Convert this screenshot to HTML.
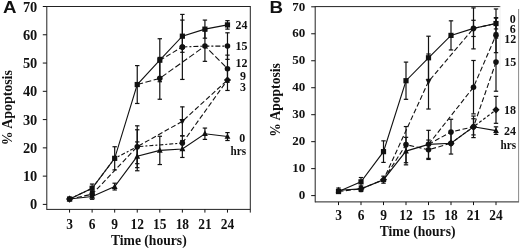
<!DOCTYPE html>
<html><head><meta charset="utf-8"><style>
html,body{margin:0;padding:0;background:#fff;}
svg{display:block;filter:grayscale(1) blur(0.35px)}
</style></head><body>
<svg width="520" height="248" viewBox="0 0 520 248">
<rect width="520" height="248" fill="#fff"/>
<line x1="46.80" y1="6.00" x2="46.80" y2="209.90" stroke="#222" stroke-width="1"/>
<line x1="46.80" y1="6.50" x2="250.30" y2="6.50" stroke="#222" stroke-width="1"/>
<line x1="250.30" y1="6.00" x2="250.30" y2="212.60" stroke="#222" stroke-width="1"/>
<line x1="46.80" y1="209.40" x2="250.30" y2="209.40" stroke="#222" stroke-width="1"/>
<line x1="42.80" y1="204.40" x2="46.80" y2="204.40" stroke="#111" stroke-width="1"/>
<text transform="translate(37.3 209.4)" font-family="Liberation Serif, serif" font-weight="bold" font-size="14.4" text-anchor="end" fill="#111">0</text>
<line x1="42.80" y1="176.13" x2="46.80" y2="176.13" stroke="#111" stroke-width="1"/>
<text transform="translate(37.3 181.13)" font-family="Liberation Serif, serif" font-weight="bold" font-size="14.4" text-anchor="end" fill="#111">10</text>
<line x1="42.80" y1="147.86" x2="46.80" y2="147.86" stroke="#111" stroke-width="1"/>
<text transform="translate(37.3 152.86)" font-family="Liberation Serif, serif" font-weight="bold" font-size="14.4" text-anchor="end" fill="#111">20</text>
<line x1="42.80" y1="119.59" x2="46.80" y2="119.59" stroke="#111" stroke-width="1"/>
<text transform="translate(37.3 124.59)" font-family="Liberation Serif, serif" font-weight="bold" font-size="14.4" text-anchor="end" fill="#111">30</text>
<line x1="42.80" y1="91.32" x2="46.80" y2="91.32" stroke="#111" stroke-width="1"/>
<text transform="translate(37.3 96.32000000000001)" font-family="Liberation Serif, serif" font-weight="bold" font-size="14.4" text-anchor="end" fill="#111">40</text>
<line x1="42.80" y1="63.05" x2="46.80" y2="63.05" stroke="#111" stroke-width="1"/>
<text transform="translate(37.3 68.05000000000001)" font-family="Liberation Serif, serif" font-weight="bold" font-size="14.4" text-anchor="end" fill="#111">50</text>
<line x1="42.80" y1="34.78" x2="46.80" y2="34.78" stroke="#111" stroke-width="1"/>
<text transform="translate(37.3 39.78)" font-family="Liberation Serif, serif" font-weight="bold" font-size="14.4" text-anchor="end" fill="#111">60</text>
<line x1="42.80" y1="6.51" x2="46.80" y2="6.51" stroke="#111" stroke-width="1"/>
<text transform="translate(37.3 11.51000000000002)" font-family="Liberation Serif, serif" font-weight="bold" font-size="14.4" text-anchor="end" fill="#111">70</text>
<line x1="69.56" y1="209.40" x2="69.56" y2="212.60" stroke="#111" stroke-width="1"/>
<text transform="translate(69.56 228.9) scale(0.96 1)" font-family="Liberation Serif, serif" font-weight="bold" font-size="14" text-anchor="middle" fill="#111">3</text>
<line x1="92.12" y1="209.40" x2="92.12" y2="212.60" stroke="#111" stroke-width="1"/>
<text transform="translate(92.12 228.9) scale(0.96 1)" font-family="Liberation Serif, serif" font-weight="bold" font-size="14" text-anchor="middle" fill="#111">6</text>
<line x1="114.68" y1="209.40" x2="114.68" y2="212.60" stroke="#111" stroke-width="1"/>
<text transform="translate(114.67999999999999 228.9) scale(0.96 1)" font-family="Liberation Serif, serif" font-weight="bold" font-size="14" text-anchor="middle" fill="#111">9</text>
<line x1="137.24" y1="209.40" x2="137.24" y2="212.60" stroke="#111" stroke-width="1"/>
<text transform="translate(137.24 228.9) scale(0.96 1)" font-family="Liberation Serif, serif" font-weight="bold" font-size="14" text-anchor="middle" fill="#111">12</text>
<line x1="159.80" y1="209.40" x2="159.80" y2="212.60" stroke="#111" stroke-width="1"/>
<text transform="translate(159.8 228.9) scale(0.96 1)" font-family="Liberation Serif, serif" font-weight="bold" font-size="14" text-anchor="middle" fill="#111">15</text>
<line x1="182.36" y1="209.40" x2="182.36" y2="212.60" stroke="#111" stroke-width="1"/>
<text transform="translate(182.35999999999999 228.9) scale(0.96 1)" font-family="Liberation Serif, serif" font-weight="bold" font-size="14" text-anchor="middle" fill="#111">18</text>
<line x1="204.92" y1="209.40" x2="204.92" y2="212.60" stroke="#111" stroke-width="1"/>
<text transform="translate(204.92 228.9) scale(0.96 1)" font-family="Liberation Serif, serif" font-weight="bold" font-size="14" text-anchor="middle" fill="#111">21</text>
<line x1="227.48" y1="209.40" x2="227.48" y2="212.60" stroke="#111" stroke-width="1"/>
<text transform="translate(227.48 228.9) scale(0.96 1)" font-family="Liberation Serif, serif" font-weight="bold" font-size="14" text-anchor="middle" fill="#111">24</text>
<text transform="translate(3.1 13.1) scale(1.1 1)" font-family="Liberation Sans, serif" font-weight="bold" font-size="17" text-anchor="start" fill="#111">A</text>
<text transform="translate(11.5 107.7) rotate(-90) scale(0.97 1)" font-family="Liberation Serif, serif" font-weight="bold" font-size="14.3" text-anchor="middle" fill="#111">% Apoptosis</text>
<text transform="translate(148.8 244.8) scale(0.96 1)" font-family="Liberation Serif, serif" font-weight="bold" font-size="14.2" text-anchor="middle" fill="#111">Time (hours)</text>
<line x1="92.12" y1="184.05" x2="92.12" y2="192.53" stroke="#111" stroke-width="1.2"/>
<line x1="89.92" y1="184.05" x2="94.32" y2="184.05" stroke="#111" stroke-width="1.2"/>
<line x1="89.92" y1="192.53" x2="94.32" y2="192.53" stroke="#111" stroke-width="1.2"/>
<line x1="114.68" y1="146.73" x2="114.68" y2="169.91" stroke="#111" stroke-width="1.2"/>
<line x1="112.48" y1="146.73" x2="116.88" y2="146.73" stroke="#111" stroke-width="1.2"/>
<line x1="112.48" y1="169.91" x2="116.88" y2="169.91" stroke="#111" stroke-width="1.2"/>
<line x1="137.24" y1="65.59" x2="137.24" y2="103.48" stroke="#111" stroke-width="1.2"/>
<line x1="135.04" y1="65.59" x2="139.44" y2="65.59" stroke="#111" stroke-width="1.2"/>
<line x1="135.04" y1="103.48" x2="139.44" y2="103.48" stroke="#111" stroke-width="1.2"/>
<line x1="159.80" y1="38.74" x2="159.80" y2="81.71" stroke="#111" stroke-width="1.2"/>
<line x1="157.60" y1="38.74" x2="162.00" y2="38.74" stroke="#111" stroke-width="1.2"/>
<line x1="157.60" y1="81.71" x2="162.00" y2="81.71" stroke="#111" stroke-width="1.2"/>
<line x1="182.36" y1="20.08" x2="182.36" y2="52.31" stroke="#111" stroke-width="1.2"/>
<line x1="180.16" y1="20.08" x2="184.56" y2="20.08" stroke="#111" stroke-width="1.2"/>
<line x1="180.16" y1="52.31" x2="184.56" y2="52.31" stroke="#111" stroke-width="1.2"/>
<line x1="204.92" y1="20.08" x2="204.92" y2="38.17" stroke="#111" stroke-width="1.2"/>
<line x1="202.72" y1="20.08" x2="207.12" y2="20.08" stroke="#111" stroke-width="1.2"/>
<line x1="202.72" y1="38.17" x2="207.12" y2="38.17" stroke="#111" stroke-width="1.2"/>
<line x1="227.48" y1="20.65" x2="227.48" y2="29.13" stroke="#111" stroke-width="1.2"/>
<line x1="225.28" y1="20.65" x2="229.68" y2="20.65" stroke="#111" stroke-width="1.2"/>
<line x1="225.28" y1="29.13" x2="229.68" y2="29.13" stroke="#111" stroke-width="1.2"/>
<line x1="182.36" y1="14.43" x2="182.36" y2="79.45" stroke="#111" stroke-width="1.2"/>
<line x1="180.16" y1="14.43" x2="184.56" y2="14.43" stroke="#111" stroke-width="1.2"/>
<line x1="180.16" y1="79.45" x2="184.56" y2="79.45" stroke="#111" stroke-width="1.2"/>
<line x1="204.92" y1="30.82" x2="204.92" y2="61.35" stroke="#111" stroke-width="1.2"/>
<line x1="202.72" y1="30.82" x2="207.12" y2="30.82" stroke="#111" stroke-width="1.2"/>
<line x1="202.72" y1="61.35" x2="207.12" y2="61.35" stroke="#111" stroke-width="1.2"/>
<line x1="227.48" y1="32.80" x2="227.48" y2="59.37" stroke="#111" stroke-width="1.2"/>
<line x1="225.28" y1="32.80" x2="229.68" y2="32.80" stroke="#111" stroke-width="1.2"/>
<line x1="225.28" y1="59.37" x2="229.68" y2="59.37" stroke="#111" stroke-width="1.2"/>
<line x1="159.80" y1="57.40" x2="159.80" y2="99.24" stroke="#111" stroke-width="1.2"/>
<line x1="157.60" y1="57.40" x2="162.00" y2="57.40" stroke="#111" stroke-width="1.2"/>
<line x1="157.60" y1="99.24" x2="162.00" y2="99.24" stroke="#111" stroke-width="1.2"/>
<line x1="227.48" y1="55.13" x2="227.48" y2="82.27" stroke="#111" stroke-width="1.2"/>
<line x1="225.28" y1="55.13" x2="229.68" y2="55.13" stroke="#111" stroke-width="1.2"/>
<line x1="225.28" y1="82.27" x2="229.68" y2="82.27" stroke="#111" stroke-width="1.2"/>
<line x1="92.12" y1="191.40" x2="92.12" y2="197.05" stroke="#111" stroke-width="1.2"/>
<line x1="89.92" y1="191.40" x2="94.32" y2="191.40" stroke="#111" stroke-width="1.2"/>
<line x1="89.92" y1="197.05" x2="94.32" y2="197.05" stroke="#111" stroke-width="1.2"/>
<line x1="137.24" y1="125.81" x2="137.24" y2="167.65" stroke="#111" stroke-width="1.2"/>
<line x1="135.04" y1="125.81" x2="139.44" y2="125.81" stroke="#111" stroke-width="1.2"/>
<line x1="135.04" y1="167.65" x2="139.44" y2="167.65" stroke="#111" stroke-width="1.2"/>
<line x1="182.36" y1="106.87" x2="182.36" y2="135.70" stroke="#111" stroke-width="1.2"/>
<line x1="180.16" y1="106.87" x2="184.56" y2="106.87" stroke="#111" stroke-width="1.2"/>
<line x1="180.16" y1="135.70" x2="184.56" y2="135.70" stroke="#111" stroke-width="1.2"/>
<line x1="227.48" y1="69.55" x2="227.48" y2="90.47" stroke="#111" stroke-width="1.2"/>
<line x1="225.28" y1="69.55" x2="229.68" y2="69.55" stroke="#111" stroke-width="1.2"/>
<line x1="225.28" y1="90.47" x2="229.68" y2="90.47" stroke="#111" stroke-width="1.2"/>
<line x1="137.24" y1="129.77" x2="137.24" y2="163.69" stroke="#111" stroke-width="1.2"/>
<line x1="135.04" y1="129.77" x2="139.44" y2="129.77" stroke="#111" stroke-width="1.2"/>
<line x1="135.04" y1="163.69" x2="139.44" y2="163.69" stroke="#111" stroke-width="1.2"/>
<line x1="182.36" y1="135.99" x2="182.36" y2="150.12" stroke="#111" stroke-width="1.2"/>
<line x1="180.16" y1="135.99" x2="184.56" y2="135.99" stroke="#111" stroke-width="1.2"/>
<line x1="180.16" y1="150.12" x2="184.56" y2="150.12" stroke="#111" stroke-width="1.2"/>
<line x1="92.12" y1="193.66" x2="92.12" y2="199.31" stroke="#111" stroke-width="1.2"/>
<line x1="89.92" y1="193.66" x2="94.32" y2="193.66" stroke="#111" stroke-width="1.2"/>
<line x1="89.92" y1="199.31" x2="94.32" y2="199.31" stroke="#111" stroke-width="1.2"/>
<line x1="114.68" y1="183.20" x2="114.68" y2="189.98" stroke="#111" stroke-width="1.2"/>
<line x1="112.48" y1="183.20" x2="116.88" y2="183.20" stroke="#111" stroke-width="1.2"/>
<line x1="112.48" y1="189.98" x2="116.88" y2="189.98" stroke="#111" stroke-width="1.2"/>
<line x1="137.24" y1="141.92" x2="137.24" y2="170.76" stroke="#111" stroke-width="1.2"/>
<line x1="135.04" y1="141.92" x2="139.44" y2="141.92" stroke="#111" stroke-width="1.2"/>
<line x1="135.04" y1="170.76" x2="139.44" y2="170.76" stroke="#111" stroke-width="1.2"/>
<line x1="159.80" y1="136.27" x2="159.80" y2="164.54" stroke="#111" stroke-width="1.2"/>
<line x1="157.60" y1="136.27" x2="162.00" y2="136.27" stroke="#111" stroke-width="1.2"/>
<line x1="157.60" y1="164.54" x2="162.00" y2="164.54" stroke="#111" stroke-width="1.2"/>
<line x1="182.36" y1="140.51" x2="182.36" y2="157.47" stroke="#111" stroke-width="1.2"/>
<line x1="180.16" y1="140.51" x2="184.56" y2="140.51" stroke="#111" stroke-width="1.2"/>
<line x1="180.16" y1="157.47" x2="184.56" y2="157.47" stroke="#111" stroke-width="1.2"/>
<line x1="204.92" y1="128.07" x2="204.92" y2="139.38" stroke="#111" stroke-width="1.2"/>
<line x1="202.72" y1="128.07" x2="207.12" y2="128.07" stroke="#111" stroke-width="1.2"/>
<line x1="202.72" y1="139.38" x2="207.12" y2="139.38" stroke="#111" stroke-width="1.2"/>
<line x1="227.48" y1="132.59" x2="227.48" y2="140.51" stroke="#111" stroke-width="1.2"/>
<line x1="225.28" y1="132.59" x2="229.68" y2="132.59" stroke="#111" stroke-width="1.2"/>
<line x1="225.28" y1="140.51" x2="229.68" y2="140.51" stroke="#111" stroke-width="1.2"/>
<polyline points="69.56,199.03 92.12,188.29 114.68,158.32 137.24,84.54 159.80,60.22 182.36,36.19 204.92,29.13 227.48,24.89" fill="none" stroke="#111" stroke-width="1.1"/>
<polyline points="159.80,60.22 182.36,46.94" fill="none" stroke="#111" stroke-width="1.1" stroke-dasharray="5 2.5"/>
<polyline points="182.36,46.94 204.92,46.09 227.48,46.09" fill="none" stroke="#111" stroke-width="1.1" stroke-dasharray="5 2 2 2"/>
<polyline points="137.24,84.54 159.80,78.32 204.92,46.09 227.48,68.70" fill="none" stroke="#111" stroke-width="1.1" stroke-dasharray="6 2.5"/>
<polyline points="69.56,199.03 92.12,194.22 137.24,146.73 182.36,121.29 227.48,80.01" fill="none" stroke="#111" stroke-width="1.1" stroke-dasharray="5 2.5"/>
<polyline points="69.56,199.03 92.12,188.29 114.68,158.32 137.24,146.73 182.36,143.05" fill="none" stroke="#111" stroke-width="1.1" stroke-dasharray="4 2 2 2"/>
<polyline points="182.36,143.05 227.48,80.01" fill="none" stroke="#111" stroke-width="1.1" stroke-dasharray="5 2.5"/>
<polyline points="69.56,199.03 92.12,196.48 114.68,186.59 137.24,156.34 159.80,150.40 182.36,148.99 204.92,133.73 227.48,136.55" fill="none" stroke="#111" stroke-width="1.1"/>
<rect x="66.96" y="196.43" width="5.2" height="5.2" fill="#111"/>
<rect x="89.52" y="185.69" width="5.2" height="5.2" fill="#111"/>
<rect x="112.08" y="155.72" width="5.2" height="5.2" fill="#111"/>
<rect x="134.64" y="81.94" width="5.2" height="5.2" fill="#111"/>
<rect x="157.20" y="57.62" width="5.2" height="5.2" fill="#111"/>
<rect x="179.76" y="33.59" width="5.2" height="5.2" fill="#111"/>
<rect x="202.32" y="26.53" width="5.2" height="5.2" fill="#111"/>
<rect x="224.88" y="22.29" width="5.2" height="5.2" fill="#111"/>
<circle cx="182.36" cy="46.94" r="2.8000000000000003" fill="#111"/>
<circle cx="182.36" cy="46.94" r="2.8000000000000003" fill="#111"/>
<circle cx="204.92" cy="46.09" r="2.8000000000000003" fill="#111"/>
<circle cx="227.48" cy="46.09" r="2.8000000000000003" fill="#111"/>
<circle cx="159.80" cy="78.32" r="2.8000000000000003" fill="#111"/>
<circle cx="227.48" cy="68.70" r="2.8000000000000003" fill="#111"/>
<circle cx="92.12" cy="194.22" r="2.8000000000000003" fill="#111"/>
<polygon points="179.46,118.99 185.26,118.99 182.36,124.69" fill="#111"/>
<polygon points="65.96,199.03 69.56,195.43 73.16,199.03 69.56,202.63" fill="#111"/>
<circle cx="137.24" cy="146.73" r="2.8000000000000003" fill="#111"/>
<circle cx="182.36" cy="143.05" r="2.8000000000000003" fill="#111"/>
<polygon points="223.88,80.01 227.48,76.41 231.08,80.01 227.48,83.61" fill="#111"/>
<polygon points="66.66,201.33 72.46,201.33 69.56,195.63" fill="#111"/>
<polygon points="89.22,198.78 95.02,198.78 92.12,193.08" fill="#111"/>
<polygon points="111.78,188.89 117.58,188.89 114.68,183.19" fill="#111"/>
<polygon points="134.34,158.64 140.14,158.64 137.24,152.94" fill="#111"/>
<polygon points="156.90,152.70 162.70,152.70 159.80,147.00" fill="#111"/>
<polygon points="179.46,151.29 185.26,151.29 182.36,145.59" fill="#111"/>
<polygon points="202.02,136.03 207.82,136.03 204.92,130.33" fill="#111"/>
<polygon points="224.58,138.85 230.38,138.85 227.48,133.15" fill="#111"/>
<text transform="translate(235.5 28.5) scale(0.9 1)" font-family="Liberation Serif, serif" font-weight="bold" font-size="13.3" text-anchor="start" fill="#111">24</text>
<text transform="translate(235.5 49.5) scale(0.9 1)" font-family="Liberation Serif, serif" font-weight="bold" font-size="13.3" text-anchor="start" fill="#111">15</text>
<text transform="translate(235.5 66.5) scale(0.9 1)" font-family="Liberation Serif, serif" font-weight="bold" font-size="13.3" text-anchor="start" fill="#111">12</text>
<text transform="translate(240 79.8) scale(0.9 1)" font-family="Liberation Serif, serif" font-weight="bold" font-size="13.3" text-anchor="start" fill="#111">9</text>
<text transform="translate(240 91.3) scale(0.9 1)" font-family="Liberation Serif, serif" font-weight="bold" font-size="13.3" text-anchor="start" fill="#111">3</text>
<text transform="translate(239.3 141.8) scale(0.9 1)" font-family="Liberation Serif, serif" font-weight="bold" font-size="13.3" text-anchor="start" fill="#111">0</text>
<text transform="translate(230.5 155.2) scale(0.86 1)" font-family="Liberation Serif, serif" font-weight="bold" font-size="13" text-anchor="start" fill="#111">hrs</text>
<line x1="315.20" y1="6.10" x2="315.20" y2="202.40" stroke="#222" stroke-width="1"/>
<line x1="315.20" y1="6.60" x2="500.30" y2="6.60" stroke="#222" stroke-width="1"/>
<line x1="500.00" y1="6.60" x2="500.00" y2="70.00" stroke="#efefef" stroke-width="1"/>
<line x1="518.60" y1="9.00" x2="518.60" y2="202.40" stroke="#8a8a8a" stroke-width="1"/>
<line x1="315.20" y1="201.90" x2="518.60" y2="201.90" stroke="#222" stroke-width="1"/>
<line x1="311.20" y1="195.60" x2="315.20" y2="195.60" stroke="#111" stroke-width="1"/>
<text transform="translate(305.3 199.29999999999998) scale(0.98 1)" font-family="Liberation Serif, serif" font-weight="bold" font-size="13.3" text-anchor="end" fill="#111">0</text>
<line x1="311.20" y1="168.63" x2="315.20" y2="168.63" stroke="#111" stroke-width="1"/>
<text transform="translate(305.3 172.32999999999998) scale(0.98 1)" font-family="Liberation Serif, serif" font-weight="bold" font-size="13.3" text-anchor="end" fill="#111">10</text>
<line x1="311.20" y1="141.66" x2="315.20" y2="141.66" stroke="#111" stroke-width="1"/>
<text transform="translate(305.3 145.35999999999999) scale(0.98 1)" font-family="Liberation Serif, serif" font-weight="bold" font-size="13.3" text-anchor="end" fill="#111">20</text>
<line x1="311.20" y1="114.69" x2="315.20" y2="114.69" stroke="#111" stroke-width="1"/>
<text transform="translate(305.3 118.39) scale(0.98 1)" font-family="Liberation Serif, serif" font-weight="bold" font-size="13.3" text-anchor="end" fill="#111">30</text>
<line x1="311.20" y1="87.72" x2="315.20" y2="87.72" stroke="#111" stroke-width="1"/>
<text transform="translate(305.3 91.42) scale(0.98 1)" font-family="Liberation Serif, serif" font-weight="bold" font-size="13.3" text-anchor="end" fill="#111">40</text>
<line x1="311.20" y1="60.75" x2="315.20" y2="60.75" stroke="#111" stroke-width="1"/>
<text transform="translate(305.3 64.45) scale(0.98 1)" font-family="Liberation Serif, serif" font-weight="bold" font-size="13.3" text-anchor="end" fill="#111">50</text>
<line x1="311.20" y1="33.78" x2="315.20" y2="33.78" stroke="#111" stroke-width="1"/>
<text transform="translate(305.3 37.480000000000004) scale(0.98 1)" font-family="Liberation Serif, serif" font-weight="bold" font-size="13.3" text-anchor="end" fill="#111">60</text>
<line x1="311.20" y1="6.81" x2="315.20" y2="6.81" stroke="#111" stroke-width="1"/>
<text transform="translate(305.3 10.510000000000002) scale(0.98 1)" font-family="Liberation Serif, serif" font-weight="bold" font-size="13.3" text-anchor="end" fill="#111">70</text>
<line x1="338.50" y1="201.90" x2="338.50" y2="205.10" stroke="#111" stroke-width="1"/>
<text transform="translate(338.5 220.1) scale(0.96 1)" font-family="Liberation Serif, serif" font-weight="bold" font-size="14" text-anchor="middle" fill="#111">3</text>
<line x1="361.00" y1="201.90" x2="361.00" y2="205.10" stroke="#111" stroke-width="1"/>
<text transform="translate(361.0 220.1) scale(0.96 1)" font-family="Liberation Serif, serif" font-weight="bold" font-size="14" text-anchor="middle" fill="#111">6</text>
<line x1="383.50" y1="201.90" x2="383.50" y2="205.10" stroke="#111" stroke-width="1"/>
<text transform="translate(383.5 220.1) scale(0.96 1)" font-family="Liberation Serif, serif" font-weight="bold" font-size="14" text-anchor="middle" fill="#111">9</text>
<line x1="406.00" y1="201.90" x2="406.00" y2="205.10" stroke="#111" stroke-width="1"/>
<text transform="translate(406.0 220.1) scale(0.96 1)" font-family="Liberation Serif, serif" font-weight="bold" font-size="14" text-anchor="middle" fill="#111">12</text>
<line x1="428.50" y1="201.90" x2="428.50" y2="205.10" stroke="#111" stroke-width="1"/>
<text transform="translate(428.5 220.1) scale(0.96 1)" font-family="Liberation Serif, serif" font-weight="bold" font-size="14" text-anchor="middle" fill="#111">15</text>
<line x1="451.00" y1="201.90" x2="451.00" y2="205.10" stroke="#111" stroke-width="1"/>
<text transform="translate(451.0 220.1) scale(0.96 1)" font-family="Liberation Serif, serif" font-weight="bold" font-size="14" text-anchor="middle" fill="#111">18</text>
<line x1="473.50" y1="201.90" x2="473.50" y2="205.10" stroke="#111" stroke-width="1"/>
<text transform="translate(473.5 220.1) scale(0.96 1)" font-family="Liberation Serif, serif" font-weight="bold" font-size="14" text-anchor="middle" fill="#111">21</text>
<line x1="496.00" y1="201.90" x2="496.00" y2="205.10" stroke="#111" stroke-width="1"/>
<text transform="translate(496.0 220.1) scale(0.96 1)" font-family="Liberation Serif, serif" font-weight="bold" font-size="14" text-anchor="middle" fill="#111">24</text>
<text transform="translate(269.6 12.8) scale(1.1 1)" font-family="Liberation Sans, serif" font-weight="bold" font-size="17" text-anchor="start" fill="#111">B</text>
<text transform="translate(280.0 100.0) rotate(-90) scale(0.97 1)" font-family="Liberation Serif, serif" font-weight="bold" font-size="14.0" text-anchor="middle" fill="#111">% Apoptosis</text>
<text transform="translate(417.6 236.2) scale(0.96 1)" font-family="Liberation Serif, serif" font-weight="bold" font-size="14.2" text-anchor="middle" fill="#111">Time (hours)</text>
<line x1="361.00" y1="177.53" x2="361.00" y2="186.16" stroke="#111" stroke-width="1.2"/>
<line x1="358.80" y1="177.53" x2="363.20" y2="177.53" stroke="#111" stroke-width="1.2"/>
<line x1="358.80" y1="186.16" x2="363.20" y2="186.16" stroke="#111" stroke-width="1.2"/>
<line x1="383.50" y1="140.85" x2="383.50" y2="162.43" stroke="#111" stroke-width="1.2"/>
<line x1="381.30" y1="140.85" x2="385.70" y2="140.85" stroke="#111" stroke-width="1.2"/>
<line x1="381.30" y1="162.43" x2="385.70" y2="162.43" stroke="#111" stroke-width="1.2"/>
<line x1="406.00" y1="62.10" x2="406.00" y2="99.32" stroke="#111" stroke-width="1.2"/>
<line x1="403.80" y1="62.10" x2="408.20" y2="62.10" stroke="#111" stroke-width="1.2"/>
<line x1="403.80" y1="99.32" x2="408.20" y2="99.32" stroke="#111" stroke-width="1.2"/>
<line x1="428.50" y1="36.21" x2="428.50" y2="79.36" stroke="#111" stroke-width="1.2"/>
<line x1="426.30" y1="36.21" x2="430.70" y2="36.21" stroke="#111" stroke-width="1.2"/>
<line x1="426.30" y1="79.36" x2="430.70" y2="79.36" stroke="#111" stroke-width="1.2"/>
<line x1="451.00" y1="20.83" x2="451.00" y2="49.96" stroke="#111" stroke-width="1.2"/>
<line x1="448.80" y1="20.83" x2="453.20" y2="20.83" stroke="#111" stroke-width="1.2"/>
<line x1="448.80" y1="49.96" x2="453.20" y2="49.96" stroke="#111" stroke-width="1.2"/>
<line x1="473.50" y1="7.89" x2="473.50" y2="48.88" stroke="#111" stroke-width="1.2"/>
<line x1="471.30" y1="7.89" x2="475.70" y2="7.89" stroke="#111" stroke-width="1.2"/>
<line x1="471.30" y1="48.88" x2="475.70" y2="48.88" stroke="#111" stroke-width="1.2"/>
<line x1="496.00" y1="8.97" x2="496.00" y2="38.10" stroke="#111" stroke-width="1.2"/>
<line x1="493.80" y1="8.97" x2="498.20" y2="8.97" stroke="#111" stroke-width="1.2"/>
<line x1="493.80" y1="38.10" x2="498.20" y2="38.10" stroke="#111" stroke-width="1.2"/>
<line x1="361.00" y1="186.16" x2="361.00" y2="191.55" stroke="#111" stroke-width="1.2"/>
<line x1="358.80" y1="186.16" x2="363.20" y2="186.16" stroke="#111" stroke-width="1.2"/>
<line x1="358.80" y1="191.55" x2="363.20" y2="191.55" stroke="#111" stroke-width="1.2"/>
<line x1="383.50" y1="176.18" x2="383.50" y2="183.19" stroke="#111" stroke-width="1.2"/>
<line x1="381.30" y1="176.18" x2="385.70" y2="176.18" stroke="#111" stroke-width="1.2"/>
<line x1="381.30" y1="183.19" x2="385.70" y2="183.19" stroke="#111" stroke-width="1.2"/>
<line x1="428.50" y1="54.01" x2="428.50" y2="109.03" stroke="#111" stroke-width="1.2"/>
<line x1="426.30" y1="54.01" x2="430.70" y2="54.01" stroke="#111" stroke-width="1.2"/>
<line x1="426.30" y1="109.03" x2="430.70" y2="109.03" stroke="#111" stroke-width="1.2"/>
<line x1="473.50" y1="20.29" x2="473.50" y2="36.48" stroke="#111" stroke-width="1.2"/>
<line x1="471.30" y1="20.29" x2="475.70" y2="20.29" stroke="#111" stroke-width="1.2"/>
<line x1="471.30" y1="36.48" x2="475.70" y2="36.48" stroke="#111" stroke-width="1.2"/>
<line x1="496.00" y1="18.14" x2="496.00" y2="28.93" stroke="#111" stroke-width="1.2"/>
<line x1="493.80" y1="18.14" x2="498.20" y2="18.14" stroke="#111" stroke-width="1.2"/>
<line x1="493.80" y1="28.93" x2="498.20" y2="28.93" stroke="#111" stroke-width="1.2"/>
<line x1="406.00" y1="126.56" x2="406.00" y2="162.70" stroke="#111" stroke-width="1.2"/>
<line x1="403.80" y1="126.56" x2="408.20" y2="126.56" stroke="#111" stroke-width="1.2"/>
<line x1="403.80" y1="162.70" x2="408.20" y2="162.70" stroke="#111" stroke-width="1.2"/>
<line x1="428.50" y1="140.04" x2="428.50" y2="159.46" stroke="#111" stroke-width="1.2"/>
<line x1="426.30" y1="140.04" x2="430.70" y2="140.04" stroke="#111" stroke-width="1.2"/>
<line x1="426.30" y1="159.46" x2="430.70" y2="159.46" stroke="#111" stroke-width="1.2"/>
<line x1="451.00" y1="132.49" x2="451.00" y2="154.07" stroke="#111" stroke-width="1.2"/>
<line x1="448.80" y1="132.49" x2="453.20" y2="132.49" stroke="#111" stroke-width="1.2"/>
<line x1="448.80" y1="154.07" x2="453.20" y2="154.07" stroke="#111" stroke-width="1.2"/>
<line x1="428.50" y1="130.33" x2="428.50" y2="158.38" stroke="#111" stroke-width="1.2"/>
<line x1="426.30" y1="130.33" x2="430.70" y2="130.33" stroke="#111" stroke-width="1.2"/>
<line x1="426.30" y1="158.38" x2="430.70" y2="158.38" stroke="#111" stroke-width="1.2"/>
<line x1="473.50" y1="60.48" x2="473.50" y2="113.88" stroke="#111" stroke-width="1.2"/>
<line x1="471.30" y1="60.48" x2="475.70" y2="60.48" stroke="#111" stroke-width="1.2"/>
<line x1="471.30" y1="113.88" x2="475.70" y2="113.88" stroke="#111" stroke-width="1.2"/>
<line x1="496.00" y1="17.60" x2="496.00" y2="52.66" stroke="#111" stroke-width="1.2"/>
<line x1="493.80" y1="17.60" x2="498.20" y2="17.60" stroke="#111" stroke-width="1.2"/>
<line x1="493.80" y1="52.66" x2="498.20" y2="52.66" stroke="#111" stroke-width="1.2"/>
<line x1="451.00" y1="119.27" x2="451.00" y2="144.63" stroke="#111" stroke-width="1.2"/>
<line x1="448.80" y1="119.27" x2="453.20" y2="119.27" stroke="#111" stroke-width="1.2"/>
<line x1="448.80" y1="144.63" x2="453.20" y2="144.63" stroke="#111" stroke-width="1.2"/>
<line x1="473.50" y1="118.74" x2="473.50" y2="134.92" stroke="#111" stroke-width="1.2"/>
<line x1="471.30" y1="118.74" x2="475.70" y2="118.74" stroke="#111" stroke-width="1.2"/>
<line x1="471.30" y1="134.92" x2="475.70" y2="134.92" stroke="#111" stroke-width="1.2"/>
<line x1="496.00" y1="32.97" x2="496.00" y2="91.23" stroke="#111" stroke-width="1.2"/>
<line x1="493.80" y1="32.97" x2="498.20" y2="32.97" stroke="#111" stroke-width="1.2"/>
<line x1="493.80" y1="91.23" x2="498.20" y2="91.23" stroke="#111" stroke-width="1.2"/>
<line x1="473.50" y1="116.04" x2="473.50" y2="137.61" stroke="#111" stroke-width="1.2"/>
<line x1="471.30" y1="116.04" x2="475.70" y2="116.04" stroke="#111" stroke-width="1.2"/>
<line x1="471.30" y1="137.61" x2="475.70" y2="137.61" stroke="#111" stroke-width="1.2"/>
<line x1="496.00" y1="96.35" x2="496.00" y2="123.32" stroke="#111" stroke-width="1.2"/>
<line x1="493.80" y1="96.35" x2="498.20" y2="96.35" stroke="#111" stroke-width="1.2"/>
<line x1="493.80" y1="123.32" x2="498.20" y2="123.32" stroke="#111" stroke-width="1.2"/>
<line x1="338.50" y1="188.05" x2="338.50" y2="192.36" stroke="#111" stroke-width="1.2"/>
<line x1="336.30" y1="188.05" x2="340.70" y2="188.05" stroke="#111" stroke-width="1.2"/>
<line x1="336.30" y1="192.36" x2="340.70" y2="192.36" stroke="#111" stroke-width="1.2"/>
<line x1="406.00" y1="137.34" x2="406.00" y2="164.85" stroke="#111" stroke-width="1.2"/>
<line x1="403.80" y1="137.34" x2="408.20" y2="137.34" stroke="#111" stroke-width="1.2"/>
<line x1="403.80" y1="164.85" x2="408.20" y2="164.85" stroke="#111" stroke-width="1.2"/>
<line x1="496.00" y1="126.83" x2="496.00" y2="134.38" stroke="#111" stroke-width="1.2"/>
<line x1="493.80" y1="126.83" x2="498.20" y2="126.83" stroke="#111" stroke-width="1.2"/>
<line x1="493.80" y1="134.38" x2="498.20" y2="134.38" stroke="#111" stroke-width="1.2"/>
<polyline points="338.50,191.55 361.00,181.85 383.50,151.64 406.00,80.71 428.50,57.78 451.00,35.40 473.50,28.39 496.00,23.53" fill="none" stroke="#111" stroke-width="1.1"/>
<polyline points="338.50,191.55 361.00,188.86 383.50,179.69 428.50,81.52 473.50,28.39 496.00,23.53" fill="none" stroke="#111" stroke-width="1.1" stroke-dasharray="5 2.5"/>
<polyline points="383.50,179.69 406.00,144.63 428.50,149.75 451.00,143.28" fill="none" stroke="#111" stroke-width="1.1" stroke-dasharray="5 2.5"/>
<polyline points="428.50,144.36 473.50,87.18 496.00,35.13" fill="none" stroke="#111" stroke-width="1.1" stroke-dasharray="5 2.5"/>
<polyline points="428.50,144.36 451.00,131.95 473.50,126.83 496.00,62.10" fill="none" stroke="#111" stroke-width="1.1" stroke-dasharray="5 2.5"/>
<polyline points="451.00,143.28 473.50,126.83 496.00,109.84" fill="none" stroke="#111" stroke-width="1.1" stroke-dasharray="3 2"/>
<polyline points="338.50,190.21 361.00,188.86 383.50,179.69 406.00,151.10 428.50,144.36 451.00,143.28 473.50,126.83 496.00,130.60" fill="none" stroke="#111" stroke-width="1.1"/>
<rect x="335.90" y="188.95" width="5.2" height="5.2" fill="#111"/>
<rect x="358.40" y="179.25" width="5.2" height="5.2" fill="#111"/>
<rect x="380.90" y="149.04" width="5.2" height="5.2" fill="#111"/>
<rect x="403.40" y="78.11" width="5.2" height="5.2" fill="#111"/>
<rect x="425.90" y="55.18" width="5.2" height="5.2" fill="#111"/>
<rect x="448.40" y="32.80" width="5.2" height="5.2" fill="#111"/>
<circle cx="473.50" cy="28.39" r="2.8000000000000003" fill="#111"/>
<rect x="493.40" y="20.93" width="5.2" height="5.2" fill="#111"/>
<polygon points="357.40,188.86 361.00,185.26 364.60,188.86 361.00,192.46" fill="#111"/>
<polygon points="379.90,179.69 383.50,176.09 387.10,179.69 383.50,183.29" fill="#111"/>
<polygon points="425.60,79.22 431.40,79.22 428.50,84.92" fill="#111"/>
<circle cx="406.00" cy="144.63" r="2.8000000000000003" fill="#111"/>
<circle cx="428.50" cy="149.75" r="2.8000000000000003" fill="#111"/>
<circle cx="451.00" cy="143.28" r="2.8000000000000003" fill="#111"/>
<circle cx="428.50" cy="144.36" r="2.8000000000000003" fill="#111"/>
<circle cx="473.50" cy="87.18" r="2.8000000000000003" fill="#111"/>
<circle cx="496.00" cy="35.13" r="2.8000000000000003" fill="#111"/>
<circle cx="451.00" cy="131.95" r="2.8000000000000003" fill="#111"/>
<circle cx="473.50" cy="126.83" r="2.8000000000000003" fill="#111"/>
<circle cx="496.00" cy="62.10" r="2.8000000000000003" fill="#111"/>
<polygon points="447.40,143.28 451.00,139.68 454.60,143.28 451.00,146.88" fill="#111"/>
<polygon points="469.90,126.83 473.50,123.23 477.10,126.83 473.50,130.43" fill="#111"/>
<polygon points="492.40,109.84 496.00,106.24 499.60,109.84 496.00,113.44" fill="#111"/>
<polygon points="335.60,192.51 341.40,192.51 338.50,186.81" fill="#111"/>
<polygon points="358.10,191.16 363.90,191.16 361.00,185.46" fill="#111"/>
<polygon points="380.60,181.99 386.40,181.99 383.50,176.29" fill="#111"/>
<polygon points="403.10,153.40 408.90,153.40 406.00,147.70" fill="#111"/>
<polygon points="493.10,132.90 498.90,132.90 496.00,127.20" fill="#111"/>
<text transform="translate(509.8 22.8) scale(0.9 1)" font-family="Liberation Serif, serif" font-weight="bold" font-size="13.3" text-anchor="start" fill="#111">0</text>
<text transform="translate(509.8 32.8) scale(0.9 1)" font-family="Liberation Serif, serif" font-weight="bold" font-size="13.3" text-anchor="start" fill="#111">6</text>
<text transform="translate(504.3 43) scale(0.9 1)" font-family="Liberation Serif, serif" font-weight="bold" font-size="13.3" text-anchor="start" fill="#111">12</text>
<text transform="translate(504.3 65.8) scale(0.9 1)" font-family="Liberation Serif, serif" font-weight="bold" font-size="13.3" text-anchor="start" fill="#111">15</text>
<text transform="translate(503.9 114.3) scale(0.9 1)" font-family="Liberation Serif, serif" font-weight="bold" font-size="13.3" text-anchor="start" fill="#111">18</text>
<text transform="translate(503.9 135.3) scale(0.9 1)" font-family="Liberation Serif, serif" font-weight="bold" font-size="13.3" text-anchor="start" fill="#111">24</text>
<text transform="translate(500.5 148.9) scale(0.86 1)" font-family="Liberation Serif, serif" font-weight="bold" font-size="13" text-anchor="start" fill="#111">hrs</text>
</svg>
</body></html>
